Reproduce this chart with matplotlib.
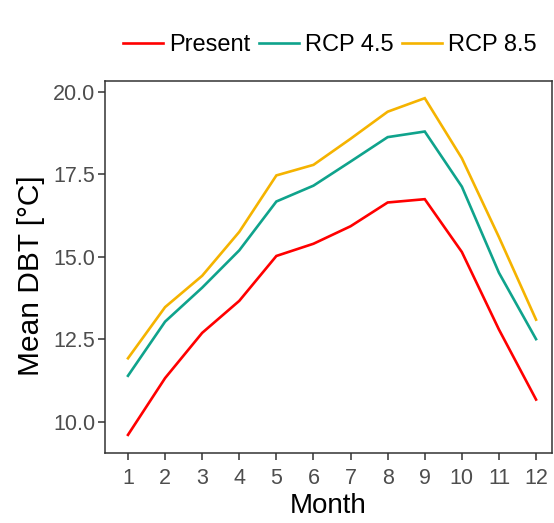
import numpy as np
import matplotlib.pyplot as plt

plt.rcParams['font.family'] = ['Liberation Sans', 'DejaVu Sans']

months = np.arange(1, 13)
present = [9.61, 11.33, 12.70, 13.67, 15.03, 15.40, 15.93, 16.65, 16.75, 15.15, 12.80, 10.68]
rcp45 = [11.40, 13.04, 14.07, 15.20, 16.68, 17.16, 17.89, 18.63, 18.80, 17.13, 14.52, 12.51]
rcp85 = [11.93, 13.48, 14.43, 15.76, 17.47, 17.79, 18.58, 19.40, 19.81, 17.99, 15.60, 13.10]

series = [("Present", present, "#ff0000"),
          ("RCP 4.5", rcp45, "#0fa38c"),
          ("RCP 8.5", rcp85, "#f5b300")]

fig = plt.figure(figsize=(5.54, 5.23), dpi=100)
ax = fig.add_axes([0.1895, 0.1338, 0.8069, 0.7113])

for name, vals, col in series:
    ax.plot(months, vals, color=col, lw=1.9, label=name, solid_joinstyle='miter')

ax.set_xlim(0.38, 12.43)
ax.set_ylim(9.06, 20.33)
ax.set_xticks(months)
ax.set_yticks([10.0, 12.5, 15.0, 17.5, 20.0])
ax.set_yticklabels(["10.0", "12.5", "15.0", "17.5", "20.0"])

for s in ax.spines.values():
    s.set_color("#333333")
    s.set_linewidth(1.1)
ax.tick_params(direction='out', length=5, width=1.1, color="#333333",
               labelcolor="#4d4d4d", labelsize=15.5, pad=2)
ax.tick_params(axis='x', pad=6)

ax.set_xlabel("Month", fontsize=20, labelpad=3)
ax.set_ylabel("Mean DBT [°C]", fontsize=21.5)
ax.yaxis.set_label_coords(-0.135, 0.476)

fig.legend(loc='center', bbox_to_anchor=(0.595, 0.914), ncol=3, frameon=False,
           fontsize=17, handlelength=1.7, handletextpad=0.25, columnspacing=0.35)

fig.savefig("out.png", dpi=100)
